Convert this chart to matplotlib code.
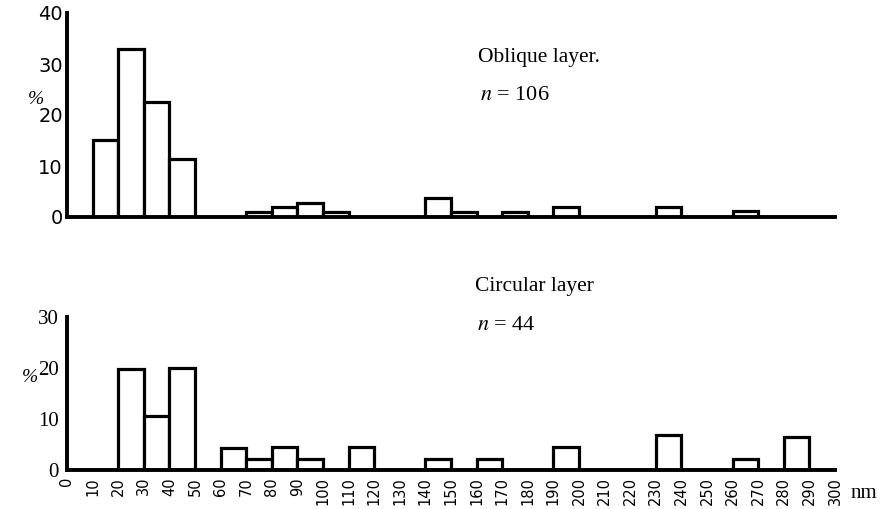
import matplotlib
matplotlib.use("Agg")
import matplotlib.pyplot as plt

plt.rcParams['mathtext.fontset'] = 'stix'

# bin left edges (nm) and percentages
oblique_bins = [10, 20, 30, 40, 70, 80, 90, 100, 140, 150, 170, 190, 230, 260]
oblique_pct = [15.1, 33.0, 22.6, 11.3, 0.9, 1.9, 2.8, 0.9, 3.8, 0.9, 0.9, 1.9, 1.9, 1.2]

circular_bins = [20, 30, 40, 60, 70, 80, 90, 110, 140, 160, 190, 230, 260, 280]
circular_pct = [19.8, 10.5, 20.0, 4.3, 2.2, 4.4, 2.2, 4.4, 2.2, 2.2, 4.4, 6.8, 2.1, 6.4]

xticks = list(range(0, 301, 10))
top_yticks = [0, 10, 20, 30, 40]
bot_yticks = [0, 10, 20, 30]

lw = 2.3
serif = 'Liberation Serif'
sans = 'DejaVu Sans'

fig = plt.figure(figsize=(8.82, 5.09), dpi=100)
ax1 = fig.add_axes([67/882, 1 - 217/509, 768/882, 204/509])
ax2 = fig.add_axes([67/882, 1 - 470/509, 768/882, 153.5/509])

ax1.bar(oblique_bins, oblique_pct, width=10, align='edge', facecolor='white',
        edgecolor='black', linewidth=lw, zorder=3)
ax2.bar(circular_bins, circular_pct, width=10, align='edge', facecolor='white',
        edgecolor='black', linewidth=lw, zorder=3)

for ax in (ax1, ax2):
    ax.set_xlim(0, 300)
    for s in ['top', 'right']:
        ax.spines[s].set_visible(False)
    for s in ['left', 'bottom']:
        ax.spines[s].set_linewidth(lw + 0.5)
        ax.spines[s].set_zorder(4)
    ax.tick_params(length=0)

ax1.set_ylim(0, 40)
ax1.set_yticks(top_yticks)
ax1.set_yticklabels([str(v) for v in top_yticks], fontfamily=sans, fontsize=14)
ax1.set_xticks([])
ax1.tick_params(axis='y', pad=3)

ax2.set_ylim(0, 30)
ax2.set_yticks(bot_yticks)
ax2.set_yticklabels([str(v) for v in bot_yticks], fontfamily=serif, fontsize=15)
ax2.set_xticks(xticks)
ax2.set_xticklabels([str(v) for v in xticks], rotation=90, fontfamily=sans,
                    fontsize=10.5, va='top')
ax2.tick_params(axis='y', pad=6)
ax2.tick_params(axis='x', pad=5)

fig.text(28/882, 1 - 100/509, '%', fontfamily=serif, fontstyle='italic',
         fontsize=14, ha='left', va='center')
fig.text(22/882, 1 - 377/509, '%', fontfamily=serif, fontstyle='italic',
         fontsize=14, ha='left', va='center')

fig.text(478/882, 1 - 58/509, 'Oblique layer.', fontfamily=serif, fontsize=15.5,
         ha='left', va='center')
fig.text(480/882, 1 - 96/509, r'$n$ = 106', fontfamily=serif, fontsize=16,
         ha='left', va='center')
fig.text(475/882, 1 - 287/509, 'Circular layer', fontfamily=serif, fontsize=15.5,
         ha='left', va='center')
fig.text(477/882, 1 - 325/509, r'$n$ = 44', fontfamily=serif, fontsize=16,
         ha='left', va='center')
fig.text(851/882, 1 - 494/509, 'nm', fontfamily=serif, fontsize=15,
         ha='left', va='center')

fig.savefig('out.png', dpi=100, facecolor='white')
